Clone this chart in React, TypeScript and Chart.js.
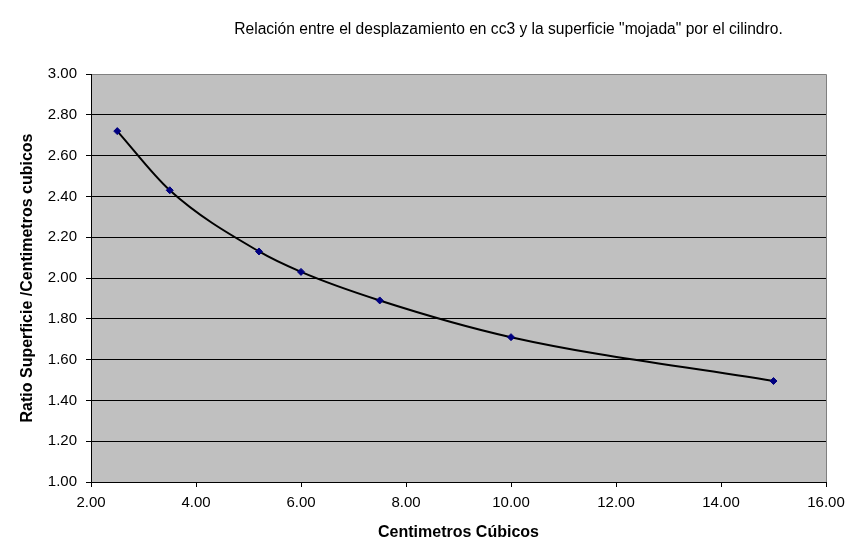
import React, { useEffect, useRef } from "react";
import { Chart, registerables } from "chart.js";

Chart.register(...registerables);

const TITLE = 'Relación entre el desplazamiento en cc3 y la superficie "mojada" por el cilindro.';
const X_TITLE = "Centimetros Cúbicos";
const Y_TITLE = "Ratio Superficie /Centimetros cubicos";

const xValues = [2.5, 3.5, 5.2, 6.0, 7.5, 10.0, 15.0];
const yValues = [2.72, 2.43, 2.13, 2.03, 1.89, 1.71, 1.495];

const X_MIN = 2;
const X_MAX = 16;
const X_STEP = 2;
const Y_MIN = 1;
const Y_MAX = 3;
const Y_STEP = 0.2;

const FONT = "'Liberation Sans', Arial, sans-serif";

export default function App() {
  const canvasRef = useRef<HTMLCanvasElement | null>(null);

  useEffect(() => {
    document.body.style.margin = "0";
    const canvas = canvasRef.current;
    if (!canvas) return;

    const plotBg = {
      id: "plotBg",
      beforeDraw(chart: any) {
        const { ctx, chartArea } = chart;
        ctx.save();
        ctx.fillStyle = "#C0C0C0";
        ctx.fillRect(chartArea.left, chartArea.top, chartArea.right - chartArea.left, chartArea.bottom - chartArea.top);
        ctx.strokeStyle = "#808080";
        ctx.lineWidth = 1;
        ctx.beginPath();
        ctx.moveTo(chartArea.left, chartArea.top + 0.5);
        ctx.lineTo(chartArea.right + 0.5, chartArea.top + 0.5);
        ctx.lineTo(chartArea.right + 0.5, chartArea.bottom);
        ctx.stroke();
        ctx.restore();
      },
      afterDraw(chart: any) {
        const { ctx, chartArea } = chart;
        ctx.save();
        ctx.fillStyle = "#000000";
        ctx.font = `15.6px ${FONT}`;
        ctx.textAlign = "center";
        ctx.textBaseline = "middle";
        const cx = chartArea.left + (chartArea.right - chartArea.left) * 0.568;
        ctx.fillText(TITLE, cx, chartArea.top * 0.4);
        ctx.restore();
      },
    };

    const chart = new Chart(canvas, {
      type: "scatter",
      data: {
        datasets: [
          {
            label: "Ratio",
            data: xValues.map((x, i) => ({ x, y: yValues[i] })),
            showLine: true,
            borderColor: "#000000",
            borderWidth: 2,
            cubicInterpolationMode: "monotone",
            pointStyle: "rectRot",
            pointRadius: 3.5,
            pointBackgroundColor: "#000080",
            pointBorderColor: "#000080",
            pointBorderWidth: 1,
          },
        ],
      },
      options: {
        animation: false,
        responsive: false,
        layout: { padding: { left: 0, right: 28, top: 74, bottom: 0 } },
        plugins: {
          legend: { display: false },
          tooltip: { enabled: false },
          title: { display: false },
        },
        scales: {
          x: {
            type: "linear",
            min: X_MIN,
            max: X_MAX,
            ticks: {
              stepSize: X_STEP,
              color: "#000000",
              font: { family: FONT, size: 15 },
              padding: 7,
              maxRotation: 0,
              callback: (v: any) => Number(v).toFixed(2),
            },
            grid: {
              drawOnChartArea: false,
              drawTicks: true,
              tickLength: 5,
              color: "#000000",
              tickColor: "#000000",
            },
            border: { display: true, color: "#000000", width: 1 },
            title: {
              display: true,
              text: X_TITLE,
              color: "#000000",
              font: { family: FONT, size: 16, weight: "bold" },
              padding: { top: 0, bottom: 9 },
            },
            afterFit: (scale: any) => {
              scale.height = 69;
            },
          },
          y: {
            type: "linear",
            min: Y_MIN,
            max: Y_MAX,
            ticks: {
              stepSize: Y_STEP,
              color: "#000000",
              font: { family: FONT, size: 15 },
              padding: 9,
              callback: (v: any) => Number(v).toFixed(2),
            },
            grid: {
              drawOnChartArea: true,
              drawTicks: true,
              tickLength: 5,
              color: (c: any) => (c.tick && Math.abs(c.tick.value - Y_MAX) < 1e-9 ? "#808080" : "#000000"),
              tickColor: "#000000",
              lineWidth: 1,
            },
            border: { display: true, color: "#000000", width: 1 },
            title: {
              display: true,
              text: Y_TITLE,
              color: "#000000",
              font: { family: FONT, size: 16, weight: "bold" },
              padding: { top: 18, bottom: 0 },
            },
            afterFit: (scale: any) => {
              scale.width = 91;
            },
          },
        },
      },
      plugins: [plotBg],
    });

    return () => chart.destroy();
  }, []);

  return (
    <div style={{ position: "relative", width: 854, height: 551, background: "#ffffff" }}>
      <canvas ref={canvasRef} width={854} height={551} style={{ display: "block" }} />
    </div>
  );
}
